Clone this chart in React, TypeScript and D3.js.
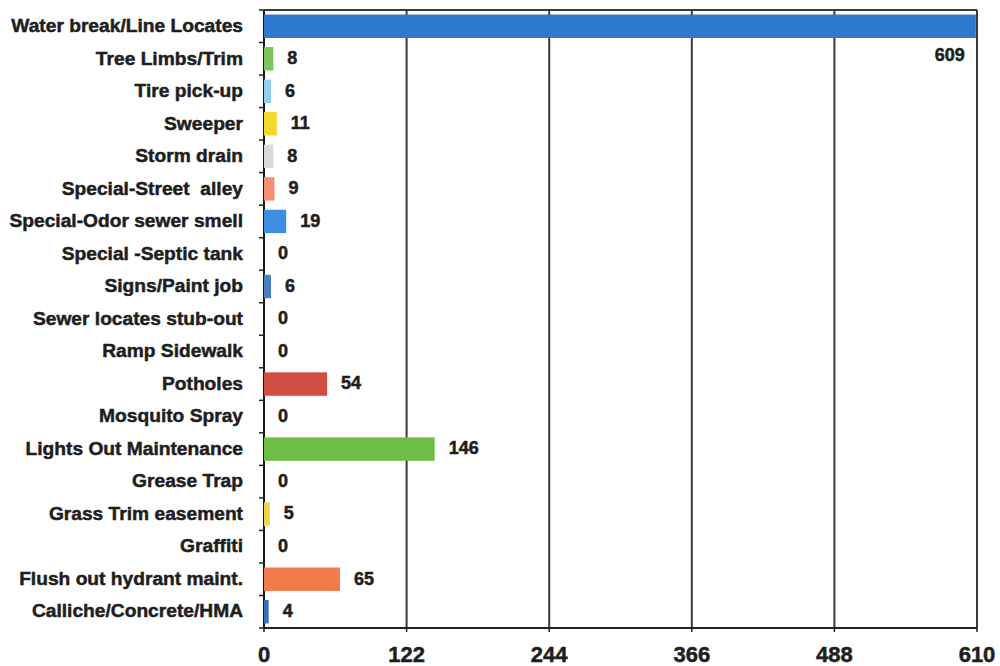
import React from "react";
import * as d3 from "d3";

const categories = [
  "Water break/Line Locates",
  "Tree Limbs/Trim",
  "Tire pick-up",
  "Sweeper",
  "Storm drain",
  "Special-Street\u00a0 alley",
  "Special-Odor sewer smell",
  "Special -Septic tank",
  "Signs/Paint job",
  "Sewer locates stub-out",
  "Ramp Sidewalk",
  "Potholes",
  "Mosquito Spray",
  "Lights Out Maintenance",
  "Grease Trap",
  "Grass Trim easement",
  "Graffiti",
  "Flush out hydrant maint.",
  "Calliche/Concrete/HMA",
];

const values = [609, 8, 6, 11, 8, 9, 19, 0, 6, 0, 0, 54, 0, 146, 0, 5, 0, 65, 4];

const colors = [
  "#2f78cf", "#7cc45c", "#93cdef", "#f4d82a", "#d9d9d9", "#f39272", "#3d8fe4",
  "#3d6fb5", "#4a80c2", "#3d6fb5", "#3d6fb5", "#d14c42", "#3d6fb5", "#6cbf44",
  "#f0d040", "#f2d348", "#3d6fb5", "#f27b4c", "#3a6fb5",
];

const xTicks = [0, 122, 244, 366, 488, 610];

const W = 1000;
const H = 666;
const left = 264;
const right = 977;
const top = 10;
const bottom = 628;
const font = "'Liberation Sans', Arial, sans-serif";

export default function App() {
  const x = d3.scaleLinear().domain([0, 610]).range([left, right]);
  const y = d3
    .scaleBand<string>()
    .domain(categories)
    .range([top, bottom])
    .paddingInner(0.28)
    .paddingOuter(0.14);
  const step = y.step();
  const boundaries = d3.range(categories.length + 1).map((i) => top + i * ((bottom - top) / categories.length));

  const textStyle = { stroke: "#1e1e1e", strokeWidth: 0.5 };

  return (
    <svg
      width={W}
      height={H}
      style={{ position: "absolute", left: 0, top: 0, background: "#fff" }}
      fontFamily={font}
    >
      {/* gridlines */}
      {xTicks.slice(1).map((t) => (
        <line key={"g" + t} x1={x(t)} x2={x(t)} y1={top} y2={bottom} stroke="#3a3a3a" strokeWidth={2} />
      ))}
      {/* top border */}
      <line x1={left} x2={right} y1={top} y2={top} stroke="#3a3a3a" strokeWidth={2} />
      {/* y axis */}
      <line x1={left} x2={left} y1={top} y2={bottom} stroke="#1a1a1a" strokeWidth={2} />
      {boundaries.map((b, i) => (
        <line key={"yt" + i} x1={left - 5} x2={left} y1={b} y2={b} stroke="#222" strokeWidth={1.5} />
      ))}
      {/* bars */}
      {categories.map((c, i) => (
        <rect
          key={"b" + i}
          x={x(0)}
          y={y(c)!}
          width={Math.max(0, x(values[i]) - x(0))}
          height={y.bandwidth()}
          fill={colors[i]}
        />
      ))}
      {/* x axis */}
      <line x1={left} x2={right} y1={bottom} y2={bottom} stroke="#222" strokeWidth={2} />
      {xTicks.map((t) => (
        <g key={"xt" + t}>
          <line x1={x(t)} x2={x(t)} y1={bottom} y2={bottom + 4} stroke="#222" strokeWidth={1.5} />
          <text
            x={x(t)}
            y={662}
            textAnchor="middle"
            fontSize={22}
            fontWeight="bold"
            fill="#1e1e1e"
            style={textStyle}
          >
            {t}
          </text>
        </g>
      ))}
      {/* category labels */}
      {categories.map((c) => (
        <text
          key={"l" + c}
          x={243}
          y={y(c)! + y.bandwidth() / 2 - 1}
          dy="0.35em"
          textAnchor="end"
          fontSize={19.2}
          fontWeight="bold"
          fill="#1e1e1e"
          style={textStyle}
        >
          {c}
        </text>
      ))}
      {/* value labels */}
      {categories.map((c, i) => {
        const cy = y(c)! + y.bandwidth() / 2 - 1;
        if (i === 0) {
          return (
            <text
              key={"v" + i}
              x={x(values[i]) - 11}
              y={cy + step * 0.92}
              dy="0.35em"
              textAnchor="end"
              fontSize={18}
              fontWeight="bold"
              fill="#1e1e1e"
              style={textStyle}
            >
              {values[i]}
            </text>
          );
        }
        return (
          <text
            key={"v" + i}
            x={x(values[i]) + 14}
            y={cy}
            dy="0.35em"
            textAnchor="start"
            fontSize={18}
            fontWeight="bold"
            fill="#1e1e1e"
            style={textStyle}
          >
            {values[i]}
          </text>
        );
      })}
    </svg>
  );
}
